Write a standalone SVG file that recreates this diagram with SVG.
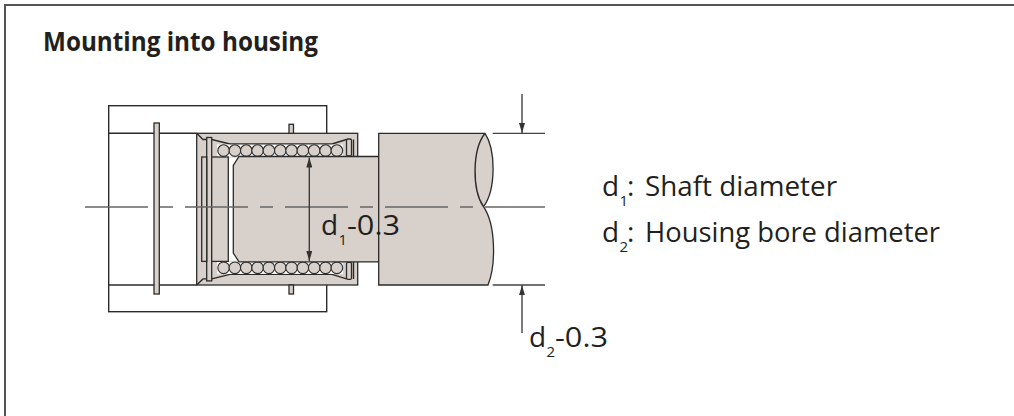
<svg xmlns="http://www.w3.org/2000/svg" width="1014" height="416" viewBox="0 0 1014 416">
<style>
.ol{stroke:#2b2b2b;stroke-width:1.4;fill:none}
.tp{fill:#d8d0ca;stroke:#2b2b2b;stroke-width:1.3}
.ball{fill:#d8d0ca;stroke:#2b2b2b;stroke-width:1.1}
.dim{stroke:#333;stroke-width:1.3;fill:none}
.ext{stroke:#444;stroke-width:1.3;fill:none}
.cl{stroke:#666;stroke-width:1.5;stroke-dasharray:63 12 13 12;fill:none}
.t{font-family:"Open Sans","Liberation Sans",sans-serif;fill:#231f20}
.big{font-size:28px}
.sub{font-size:15px}
</style>
<defs>
<marker id="ah" viewBox="0 0 10 6" refX="10" refY="3" markerWidth="10" markerHeight="6" markerUnits="userSpaceOnUse" orient="auto-start-reverse"><path d="M0,0 L10,3 L0,6 Z" fill="#333"/></marker>
</defs>
<rect x="0" y="0" width="1014" height="416" fill="#fff"/>
<path d="M5,416 V5 H1014" stroke="#555" stroke-width="2" fill="none"/>
<g id="title"><text class="t" x="43" y="51" font-size="27" font-weight="bold" textLength="275" lengthAdjust="spacingAndGlyphs">Mounting into housing</text></g>

<g id="housing">
<rect x="108.7" y="105.7" width="218" height="206" fill="#fff" class="ol"/>
<path class="ol" d="M108.7,133.3 H196.7 M108.7,285 H196.7"/>
<rect class="tp" x="154" y="123" width="5.3" height="171"/>
</g>

<g id="bearing">
<rect class="tp" x="196.7" y="133.3" width="161" height="151.7"/>
<path class="ol" d="M196.7,133.3 L203,139.5 H206.7 M196.7,285 L203,278.9 H206.7"/>
<path class="ol" d="M211.7,139.5 L230,144 H332 L346.5,139.5 M211.7,278.9 L230,274.4 H332 L346.5,278.9"/>
<rect x="217" y="144.6" width="126" height="12" fill="#fff"/>
<rect x="217" y="261.8" width="126" height="12" fill="#fff"/>
<g class="ball">
<circle cx="223.6" cy="150.6" r="5.8"/><circle cx="234.9" cy="150.6" r="5.8"/><circle cx="246.3" cy="150.6" r="5.8"/><circle cx="257.6" cy="150.6" r="5.8"/><circle cx="268.9" cy="150.6" r="5.8"/><circle cx="280.3" cy="150.6" r="5.8"/><circle cx="291.6" cy="150.6" r="5.8"/><circle cx="302.9" cy="150.6" r="5.8"/><circle cx="314.2" cy="150.6" r="5.8"/><circle cx="325.6" cy="150.6" r="5.8"/><circle cx="336.9" cy="150.6" r="5.8"/>
<circle cx="223.6" cy="267.8" r="5.8"/><circle cx="234.9" cy="267.8" r="5.8"/><circle cx="246.3" cy="267.8" r="5.8"/><circle cx="257.6" cy="267.8" r="5.8"/><circle cx="268.9" cy="267.8" r="5.8"/><circle cx="280.3" cy="267.8" r="5.8"/><circle cx="291.6" cy="267.8" r="5.8"/><circle cx="302.9" cy="267.8" r="5.8"/><circle cx="314.2" cy="267.8" r="5.8"/><circle cx="325.6" cy="267.8" r="5.8"/><circle cx="336.9" cy="267.8" r="5.8"/>
</g>
<rect class="tp" x="206.7" y="137.5" width="5" height="143.4"/>
<rect class="tp" x="201.7" y="157" width="5" height="104.4"/>
<rect class="tp" x="211.7" y="157" width="16.6" height="104.4"/>
<rect x="229" y="157.6" width="12" height="103.2" fill="#fff"/>
<rect class="tp" x="346.5" y="139" width="5" height="17" rx="1.5"/>
<rect class="tp" x="346.5" y="262.4" width="5" height="17" rx="1.5"/>
<path class="ol" d="M353.5,139.5 V156.5 M353.5,262 V279"/>
<rect class="tp" x="289" y="124.3" width="4.5" height="9"/>
<rect class="tp" x="289" y="285" width="4.5" height="9"/>
</g>

<g id="shaft">
<path class="tp" d="M239,156.5 H378.7 V261.9 H239 L233.3,253 V165.4 Z"/>
<path class="tp" d="M378.7,133.3 H485 C496,150 496,190 483.5,206.7 C496,225 496,265 488,285 H378.7 Z"/>
<path class="ol" d="M485,133.3 C472,150 472,190 483.5,206.7"/>
</g>

<g id="connectors">
<path class="cl" d="M85,207 H545"/>
<path class="dim" d="M309.3,157.5 V261" marker-start="url(#ah)" marker-end="url(#ah)"/>
<path class="ext" d="M492.7,133.3 H545 M492.7,285 H545"/>
<path class="dim" d="M522,94 V133" marker-end="url(#ah)"/>
<path class="dim" d="M522,333 V285.3" marker-end="url(#ah)"/>
</g>

<g id="labels" class="t">
<text class="big" x="321" y="235">d</text><text class="sub" x="338.5" y="245">1</text><text class="big" x="347" y="235" textLength="53" lengthAdjust="spacingAndGlyphs">-0.3</text>
<text class="big" x="529" y="347">d</text><text class="sub" x="546.5" y="357">2</text><text class="big" x="555" y="347" textLength="53" lengthAdjust="spacingAndGlyphs">-0.3</text>
<text class="big" x="602" y="196">d</text><text class="sub" x="619.5" y="206">1</text><text class="big" x="627" y="196">:</text><text class="big" x="645" y="196" textLength="192" lengthAdjust="spacingAndGlyphs">Shaft diameter</text>
<text class="big" x="602" y="242">d</text><text class="sub" x="619.5" y="252">2</text><text class="big" x="627" y="242">:</text><text class="big" x="645" y="242" textLength="295" lengthAdjust="spacingAndGlyphs">Housing bore diameter</text>
</g>
</svg>
